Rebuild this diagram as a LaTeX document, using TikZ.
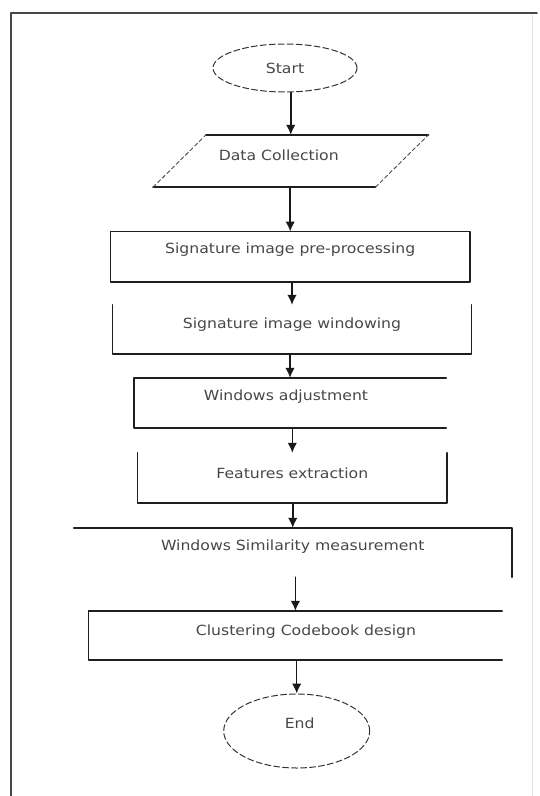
\documentclass[tikz,border=0pt]{standalone}
\usepackage{fontspec}
\newfontfamily\chartfont{DejaVu Sans}[FakeStretch=1.12]
\usetikzlibrary{arrows.meta,shapes.geometric}

\tikzset{
  rim/.style={line width=1.6bp, black!72},
  edge/.style={line width=1.6bp, black!88},
  slant/.style={line width=0.9bp, black!70, dash pattern=on 4bp off 2.5bp},
  term/.style={ellipse, draw=black!80, line width=1bp, dash pattern=on 6bp off 3bp,
    inner sep=0pt, font=\chartfont\fontsize{14bp}{16bp}\selectfont, text=black!72},
  slot/.style={rectangle, inner sep=0pt},
  txt/.style={inner sep=0pt, font=\chartfont\fontsize{14bp}{16bp}\selectfont, text=black!72},
  flow/.style={-{Latex[length=10bp,width=9.5bp]}, line width=1.5bp, black!90}
}

\begin{document}
\begin{tikzpicture}[line cap=round, line join=round, x=1bp, y=-1bp]
  \useasboundingbox (0,0) rectangle (540,796);
  % outer frame
  \draw[rim] (11,796) -- (11,13) -- (537,13);
  \draw[black!12, line width=0.8bp] (532,15) -- (532,796);

  % shapes
  \node[term, minimum width=144bp, minimum height=48bp] (start) at (285,68) {Start};
  \node[slot, minimum width=222bp, minimum height=52bp] (data) at (290.75,161) {};
  \node[slot, minimum width=359bp, minimum height=50bp] (pre) at (290.2,256.7) {};
  \node[slot, minimum width=358.5bp, minimum height=49bp] (win) at (292,329.5) {};
  \node[slot, minimum width=312bp, minimum height=50bp] (adj) at (290,403) {};
  \node[slot, minimum width=309.4bp, minimum height=50bp] (feat) at (292.3,478) {};
  \node[slot, minimum width=437.5bp, minimum height=49bp] (sim) at (292.75,552.5) {};
  \node[slot, minimum width=413bp, minimum height=49bp] (clu) at (295.4,635.5) {};
  \node[term, minimum width=146bp, minimum height=74bp] (end) at (296.7,731) {};

  % outlines
  \draw[edge] ([xshift=26.5bp]data.north west) -- ([xshift=26.5bp]data.north east);
  \draw[edge] ([xshift=-26.5bp]data.south west) -- ([xshift=-26.5bp]data.south east);
  \draw[slant] ([xshift=-26.5bp]data.south west) -- ([xshift=26.5bp]data.north west);
  \draw[slant] ([xshift=-26.5bp]data.south east) -- ([xshift=26.5bp]data.north east);
  \draw[edge] (pre.north west) rectangle (pre.south east);
  \draw[edge] (win.north west) -- (win.south west) -- (win.south east) -- (win.north east);
  \draw[edge] (adj.north east) -- (adj.north west) -- (adj.south west) -- (adj.south east);
  \draw[edge] (feat.north west) -- (feat.south west) -- (feat.south east) -- (feat.north east);
  \draw[edge] (sim.north west) -- (sim.north east) -- (sim.south east);
  \draw[edge] (clu.north east) -- (clu.north west) -- (clu.south west) -- (clu.south east);

  % texts
  \node[txt] (data-t) at ([shift={(-12bp,6bp)}]data.center) {Data Collection};
  \node[txt] (pre-t) at ([yshift=6.7bp]pre.center) {Signature image pre-processing};
  \node[txt] (win-t) at ([yshift=4.5bp]win.center) {Signature image windowing};
  \node[txt] (adj-t) at ([shift={(-4bp,6bp)}]adj.center) {Windows adjustment};
  \node[txt] (feat-t) at ([yshift=5bp]feat.center) {Features extraction};
  \node[txt] (sim-t) at ([yshift=5.5bp]sim.center) {Windows Similarity measurement};
  \node[txt] (clu-t) at ([shift={(10.6bp,3.5bp)}]clu.center) {Clustering Codebook design};
  \node[txt] (end-t) at ([shift={(3bp,8bp)}]end.center) {End};

  % connectors
  \foreach \a/\b in {start/data, data/pre, pre/win, win/adj, adj/feat, feat/sim, sim/clu, clu/end}
    \draw[flow] (\a.south -| \b.north) -- (\b.north);
\end{tikzpicture}
\end{document}
